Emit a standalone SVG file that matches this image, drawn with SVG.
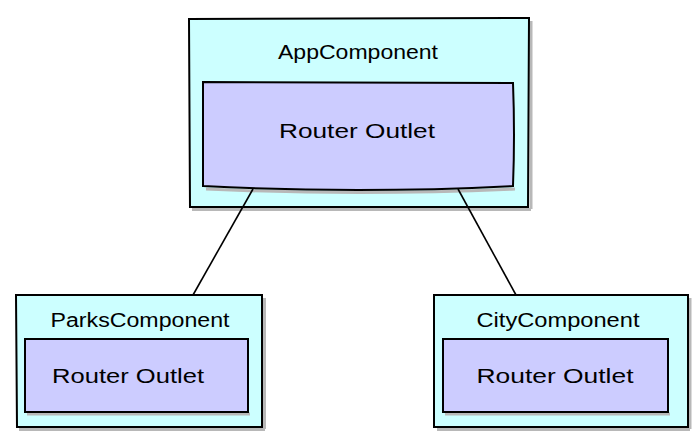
<svg xmlns="http://www.w3.org/2000/svg" width="692" height="446" viewBox="0 0 692 446">
<style>
.outer{fill:#ccffff;stroke:#000;stroke-width:2}
.inner{fill:#ccccff;stroke:#000;stroke-width:2}
.shadow{fill:none;stroke:#b8b8b8;stroke-width:3}
.conn{stroke:#000;stroke-width:1.6;fill:none}
text{font-family:"Comic Sans MS","Liberation Sans",sans-serif;font-size:20px;fill:#000;text-anchor:middle}
</style>
<rect width="692" height="446" fill="#fff"/>
<g id="app">
<path class="shadow" d="M192,209.5 L531,209.5 M531,21 L531,209"/>
<path class="outer" d="M189,19 L529,18 L528,207 L190,207 Z"/>
<text x="358" y="59" textLength="160" lengthAdjust="spacingAndGlyphs">AppComponent</text>
<path class="shadow" d="M206,189 Q358,196 515,189"/>
<path class="inner" d="M203,82 L513,83 Q515,135 513,186 Q358,194 203,186 Z"/>
<text x="357" y="138" textLength="156" lengthAdjust="spacingAndGlyphs">Router Outlet</text>
</g>
<g id="parks">
<path class="shadow" d="M19,429.5 L265,429.5 M264.5,298 L264.5,429"/>
<path class="outer" d="M16,295 L262,295 L262,427 L17,427 Z"/>
<text x="140" y="327" textLength="179" lengthAdjust="spacingAndGlyphs">ParksComponent</text>
<path class="shadow" d="M27,414 L250,414"/>
<path class="inner" d="M25,339 L248,339 L248,412 L25,412 Z"/>
<text x="128" y="383" textLength="152" lengthAdjust="spacingAndGlyphs">Router Outlet</text>
</g>
<g id="city">
<path class="shadow" d="M437,429.5 L690,429.5 M690,298 L690,429"/>
<path class="outer" d="M434,295 L688,295 L688,427 L434,427 Z"/>
<text x="558" y="327" textLength="163" lengthAdjust="spacingAndGlyphs">CityComponent</text>
<path class="shadow" d="M445,414 L670,414"/>
<path class="inner" d="M443,339 L668,339 L668,412 L443,412 Z"/>
<text x="555" y="383" textLength="157" lengthAdjust="spacingAndGlyphs">Router Outlet</text>
</g>
<g id="connectors">
<path class="conn" d="M253,189 L193,295"/>
<path class="conn" d="M458,189 L516,295"/>
</g>
</svg>
